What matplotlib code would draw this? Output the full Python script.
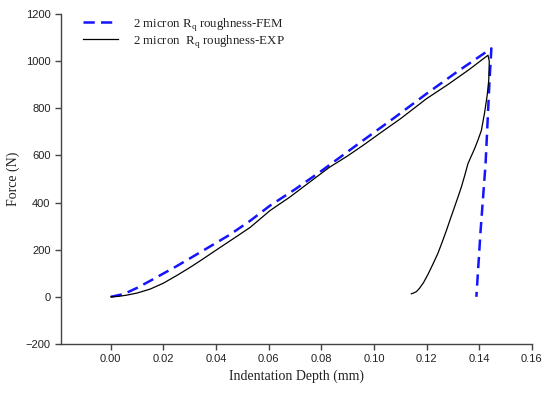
import numpy as np
import matplotlib
matplotlib.use("Agg")
import matplotlib.pyplot as plt

# FEM curve (loading then unloading)
fem_depth = [0.000, 0.005, 0.010, 0.015, 0.020, 0.025, 0.034, 0.045, 0.053, 0.0605,
             0.070, 0.080, 0.0959, 0.108, 0.120, 0.132, 0.1446,
             0.1439, 0.1424, 0.1405, 0.1389]
fem_force = [0, 12, 38, 68, 99, 130, 189, 262, 323, 387,
             456, 534, 664, 762, 862, 958, 1054,
             919, 566, 281, 0]

# experimental curve (loading then unloading)
exp_depth = [0.000, 0.003, 0.006, 0.010, 0.015, 0.020, 0.025, 0.030, 0.034, 0.040,
             0.047, 0.053, 0.0605, 0.068, 0.075, 0.083, 0.090, 0.0959, 0.103,
             0.110, 0.120, 0.128, 0.136, 0.1433,
             0.1438, 0.1436, 0.1430, 0.1420, 0.1408, 0.1395, 0.1382, 0.1370,
             0.1357, 0.1345, 0.1332, 0.1319, 0.1305, 0.1290, 0.1275, 0.1260,
             0.1243, 0.1224, 0.1205, 0.1188, 0.1172, 0.1161, 0.1150, 0.1142]
exp_force = [0, 2, 7, 16, 33, 58, 90, 124, 153, 198,
             250, 295, 366, 423, 482, 549, 598, 643, 700,
             755, 841, 900, 963, 1025,
             1000, 919, 855, 780, 706, 665, 628, 598,
             565, 516, 466, 423, 378, 330, 281, 235,
             185, 139, 95, 60, 35, 22, 16, 13]

plt.rcParams['font.family'] = 'Liberation Sans'

fig = plt.figure(figsize=(5.45, 3.94), dpi=100)
ax = fig.add_axes([0.112, 0.127, 0.864, 0.8375])

ax.plot(fem_depth, fem_force, color='#1414ff', lw=1.8, ls=(0, (4.5, 2.5)),
        label='2 micron R$_\\mathregular{q}$ roughness-FEM')
ax.plot(exp_depth, exp_force, color='black', lw=0.9,
        label='2 micron  R$_\\mathregular{q}$ roughness-EXP')

ax.set_xlim(-0.0189, 0.16)
ax.set_ylim(-200, 1200)
ax.set_xticks(np.arange(0, 0.161, 0.02))
ax.set_xticklabels([f"{v:.2f}" for v in np.arange(0, 0.161, 0.02)])
ax.set_yticks(np.arange(-200, 1201, 200))

for s in ['top', 'right']:
    ax.spines[s].set_visible(False)
for s in ['left', 'bottom']:
    ax.spines[s].set_color('#444444')
    ax.spines[s].set_linewidth(1.0)
ax.tick_params(direction='out', length=4, width=1, color='#444444',
               labelsize=8, labelcolor='#222222')

ax.set_xlabel('Indentation Depth (mm)', family='Liberation Serif', fontsize=10, color='#222222')
ax.set_ylabel('Force (N)', family='Liberation Serif', fontsize=10, color='#222222')

leg = ax.legend(loc='upper left', bbox_to_anchor=(0.022, 1.03), frameon=False,
                prop={'family': 'Liberation Serif', 'size': 9.3},
                handlelength=2.7, handletextpad=1.15, labelspacing=0.0)
for t in leg.get_texts():
    t.set_color('#222222')

fig.savefig('out.png', dpi=100)
